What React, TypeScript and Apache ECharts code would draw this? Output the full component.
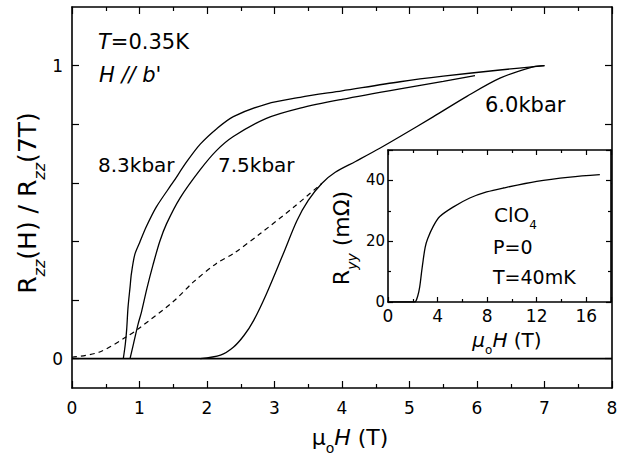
import React, { useEffect, useRef } from "react";
import * as echarts from "echarts";

// Main panel: R_zz(H)/R_zz(7T) vs mu0 H (T)
const curve83kbar: [number, number][] = [
  [0.76, 0], [0.79, 0.05], [0.81, 0.1], [0.83, 0.175], [0.86, 0.244], [0.88, 0.29],
  [0.93, 0.355], [1.0, 0.395], [1.1, 0.45], [1.25, 0.518], [1.5, 0.603], [1.7, 0.672],
  [1.9, 0.732], [2.14, 0.784], [2.39, 0.826], [2.88, 0.869], [3.38, 0.892], [4.0, 0.914],
  [4.86, 0.945], [5.5, 0.964], [6.34, 0.985], [7.0, 1.0],
];
const curve75kbar: [number, number][] = [
  [0.86, 0], [0.91, 0.05], [0.98, 0.119], [1.03, 0.16], [1.11, 0.24], [1.2, 0.32],
  [1.3, 0.4], [1.4, 0.46], [1.6, 0.548], [1.9, 0.645], [2.14, 0.71], [2.39, 0.758],
  [2.88, 0.82], [3.38, 0.855], [4.0, 0.885], [4.86, 0.921], [5.5, 0.946], [5.97, 0.966],
];
const curve60kbar: [number, number][] = [
  [1.9, 0], [2.2, 0.012], [2.39, 0.039], [2.55, 0.08], [2.69, 0.13], [2.88, 0.221],
  [3.13, 0.358], [3.33, 0.47], [3.5, 0.54], [3.7, 0.598], [3.9, 0.636], [4.2, 0.673],
  [4.56, 0.718], [4.86, 0.758], [5.35, 0.825], [5.85, 0.895], [6.34, 0.957],
  [6.83, 0.996], [7.0, 1.0],
];
const curveDashed: [number, number][] = [
  [0, 0.005], [0.4, 0.022], [0.81, 0.075], [1.0, 0.105], [1.5, 0.195], [1.8, 0.262],
  [2.14, 0.325], [2.4, 0.36], [2.79, 0.427], [3.3, 0.52], [3.7, 0.598],
];
const baseline: [number, number][] = [[0, 0], [8, 0]];

const mainYTicks = [0, 0.2, 0.4, 0.6, 0.8, 1.0];
const mainYLabels = [0, 1];

// Inset: R_yy (mOhm) vs mu0 H (T), ClO4, P=0, T=40mK
const insetCurve: [number, number][] = [
  [0, 0], [1.0, 0], [2.15, 0], [2.4, 2], [2.56, 5], [2.7, 9.5], [2.84, 13.8], [3.0, 18],
  [3.2, 20.8], [3.64, 24.8], [4.18, 28.1], [5.25, 31.2], [6.6, 34.2], [7.96, 36.2],
  [9.3, 37.5], [12.0, 39.7], [14.7, 41.1], [17.1, 41.9],
];

const labels = {
  temp: "{i|T}{n|=0.35K}",
  field: "{i|H // b'}",
  p83: "8.3kbar",
  p75: "7.5kbar",
  p60: "6.0kbar",
  xName: "{n|μ}{s|o}{i|H}{n| (T)}",
  yName: "{n|R}{si|zz}{n|(H) / R}{si|zz}{n|(7T)}",
  insetX: "{i|μ}{s|o}{i|H}{n| (T)}",
  insetY: "{n|R}{si|yy}{n| (mΩ)}",
  clo4: "{n|ClO}{s|4}",
  pressure: "P=0",
  insetT: "T=40mK",
};

const FONT = "DejaVu Sans";

function richSet(size: number, sub: number) {
  const subBase = { fontSize: sub, fontFamily: FONT, fill: "#000", verticalAlign: "bottom", lineHeight: sub, padding: [0, 0, -Math.round(sub * 0.45), 0] };
  return {
    n: { fontSize: size, fontFamily: FONT, fill: "#000", lineHeight: size + 2 },
    i: { fontSize: size, fontFamily: FONT, fontStyle: "italic", fill: "#000", lineHeight: size + 2 },
    s: subBase,
    si: { ...subBase, fontStyle: "italic" },
  };
}

function txt(x: number, y: number, text: string, size: number, extra: any = {}) {
  return {
    type: "text",
    x,
    y,
    z: 100,
    style: {
      text,
      fontSize: size,
      fontFamily: FONT,
      fill: "#000",
      align: "left",
      verticalAlign: "middle",
      rich: richSet(size, Math.round(size * 0.62)),
      ...extra,
    },
  };
}

export default function App() {
  const ref = useRef<HTMLDivElement>(null);
  useEffect(() => {
    const chart = echarts.init(ref.current!, null, { renderer: "svg" });
    const axisLine = { onZero: false, lineStyle: { color: "#000", width: 1.6 } };
    const tickStyle = { color: "#000", width: 1.2 };
    const lineSeries = (data: any, extra: any = {}) => ({
      type: "line",
      data,
      showSymbol: false,
      symbol: "none",
      smooth: 0.3,
      lineStyle: { color: "#000", width: 1.3 },
      silent: true,
      ...extra,
    });
    const option: any = {
      animation: false,
      backgroundColor: "#fff",
      grid: [
        { left: 72, top: 7, width: 540, height: 381 },
        { left: 388, top: 150, width: 223, height: 152, show: true, backgroundColor: "#fff", borderWidth: 0, z: 10 },
      ],
      xAxis: [
        {
          type: "value", gridIndex: 0, min: 0, max: 8, interval: 1, position: "bottom",
          axisLine, splitLine: { show: false },
          axisTick: { inside: true, length: 7, lineStyle: tickStyle },
          minorTick: { show: true, splitNumber: 2, length: 4, lineStyle: tickStyle },
          axisLabel: { fontSize: 17, fontFamily: FONT, color: "#000", margin: 11 },
        },
        {
          type: "value", gridIndex: 0, min: 0, max: 8, interval: 1, position: "top",
          axisLine, splitLine: { show: false },
          axisTick: { inside: true, length: 7, lineStyle: tickStyle },
          minorTick: { show: true, splitNumber: 2, length: 4, lineStyle: tickStyle },
          axisLabel: { show: false },
        },
        {
          type: "value", gridIndex: 1, min: 0, max: 18, interval: 4, position: "bottom", z: 11,
          axisLine, splitLine: { show: false },
          axisTick: { inside: true, length: 5, lineStyle: tickStyle },
          minorTick: { show: true, splitNumber: 2, length: 3, lineStyle: tickStyle },
          axisLabel: { fontSize: 17, fontFamily: FONT, color: "#000", margin: 5, showMaxLabel: false },
        },
        {
          type: "value", gridIndex: 1, min: 0, max: 18, interval: 4, position: "top", z: 11,
          axisLine, splitLine: { show: false },
          axisTick: { inside: true, length: 5, lineStyle: tickStyle },
          minorTick: { show: true, splitNumber: 2, length: 3, lineStyle: tickStyle },
          axisLabel: { show: false },
        },
      ],
      yAxis: [
        {
          type: "value", gridIndex: 0, min: -0.1, max: 1.2, position: "left",
          axisLine, splitLine: { show: false },
          axisTick: { inside: true, length: 7, lineStyle: tickStyle, customValues: mainYTicks },
          axisLabel: { fontSize: 17, fontFamily: FONT, color: "#000", margin: 9, customValues: mainYLabels },
        },
        {
          type: "value", gridIndex: 0, min: -0.1, max: 1.2, position: "right",
          axisLine, splitLine: { show: false },
          axisTick: { inside: true, length: 7, lineStyle: tickStyle, customValues: mainYTicks },
          axisLabel: { show: false, customValues: mainYLabels },
        },
        {
          type: "value", gridIndex: 1, min: 0, max: 50, interval: 20, position: "left", z: 11,
          axisLine, splitLine: { show: false },
          axisTick: { inside: true, length: 5, lineStyle: tickStyle },
          minorTick: { show: true, splitNumber: 2, length: 3, lineStyle: tickStyle },
          axisLabel: { fontSize: 15, fontFamily: FONT, color: "#000", margin: 3, showMaxLabel: false },
        },
        {
          type: "value", gridIndex: 1, min: 0, max: 50, interval: 20, position: "right", z: 11,
          axisLine, splitLine: { show: false },
          axisTick: { inside: true, length: 5, lineStyle: tickStyle },
          minorTick: { show: true, splitNumber: 2, length: 3, lineStyle: tickStyle },
          axisLabel: { show: false },
        },
      ],
      series: [
        lineSeries(baseline, { smooth: false, lineStyle: { color: "#000", width: 1.8 }, name: "zero" }),
        lineSeries(curve83kbar, { name: "8.3kbar" }),
        lineSeries(curve75kbar, { name: "7.5kbar" }),
        lineSeries(curve60kbar, { name: "6.0kbar" }),
        lineSeries(curveDashed, { name: "dashed", lineStyle: { color: "#000", width: 1.2, type: [5, 4] } }),
        lineSeries(insetCurve, { name: "ClO4", xAxisIndex: 2, yAxisIndex: 2, z: 12 }),
      ],
      graphic: [
        txt(98, 42, labels.temp, 21),
        txt(99, 75, labels.field, 21),
        txt(98, 165, labels.p83, 20),
        txt(218, 165, labels.p75, 20),
        txt(485, 105, labels.p60, 21),
        txt(494, 215, labels.clo4, 20),
        txt(493, 247, labels.pressure, 19),
        txt(493, 277, labels.insetT, 19),
        txt(350, 437, labels.xName, 22, { align: "center" }),
        txt(507, 340, labels.insetX, 20, { align: "center" }),
        { ...txt(27, 203, labels.yName, 25, { align: "center" }), rotation: Math.PI / 2 },
        { ...txt(341, 238, labels.insetY, 22, { align: "center" }), rotation: Math.PI / 2 },
      ],
    };
    chart.setOption(option);
    return () => chart.dispose();
  }, []);
  return <div ref={ref} style={{ position: "fixed", left: 0, top: 0, width: 625, height: 457 }} />;
}
